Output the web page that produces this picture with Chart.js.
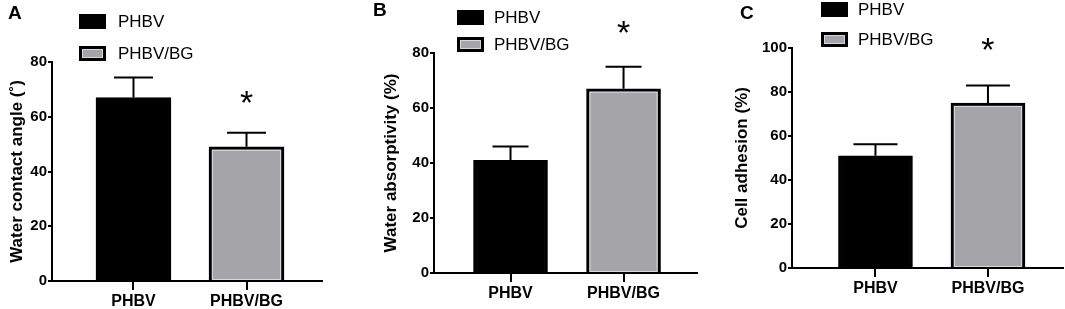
<!DOCTYPE html>
<html>
<head>
<meta charset="utf-8">
<script src="https://cdn.jsdelivr.net/npm/chart.js@4/dist/chart.umd.min.js"></script>
<style>
  html, body { margin: 0; padding: 0; background: #fff; }
  body { width: 1065px; height: 309px; position: relative; overflow: hidden; }
  .panel { position: absolute; top: 0; height: 309px; }
  canvas { display: block; }
</style>
</head>
<body>
<div class="panel" style="left:0px;width:355px"><canvas id="cA" width="355" height="309"></canvas></div>
<div class="panel" style="left:360px;width:345px"><canvas id="cB" width="345" height="309"></canvas></div>
<div class="panel" style="left:710px;width:355px"><canvas id="cC" width="355" height="309"></canvas></div>
<script>
// ---- data ----
const categories = ['PHBV', 'PHBV/BG'];
const legendLabels = ['PHBV', 'PHBV/BG'];

const contactAngle = [67, 49];
const contactAngleErr = [7.3, 5.2];

const absorptivity = [41, 67];
const absorptivityErr = [5, 8];

const adhesion = [51, 75];
const adhesionErr = [5.2, 8];

const significant = [false, true];

const yMaxA = 80, yMaxB = 80, yMaxC = 100;
const yStep = 20;

// ---- styling ----
const FONT = "'Liberation Sans', Arial, Helvetica, sans-serif";
const barColors = ['#000000', '#a5a4a8'];

function makeChart(id, cfg) {
  const ctx = document.getElementById(id);
  const W = ctx.width, H = ctx.height;
  const extras = {
    id: 'extras' + id,
    afterDatasetsDraw(chart) {
      const c = chart.ctx;
      const xs = chart.scales.x, ys = chart.scales.y;
      const meta = chart.getDatasetMeta(0);
      c.save();
      // faint inner edge on grey bar
      meta.data.forEach((bar, i) => {
        if (i === 0) return;
        const p = bar.getProps(['x', 'y', 'base', 'width'], true);
        c.strokeStyle = '#d6d6d8';
        c.lineWidth = 1;
        c.strokeRect(p.x - p.width / 2 + 3.5, p.y + 3.5, p.width - 7, p.base - p.y - 4);
      });
      // error bars (upper only)
      c.strokeStyle = '#000';
      c.lineWidth = 2;
      cfg.values.forEach((v, i) => {
        const x = xs.getPixelForValue(i + 1);
        const yb = ys.getPixelForValue(v);
        const yt = ys.getPixelForValue(v + cfg.errors[i]);
        c.beginPath();
        c.moveTo(x, yb);
        c.lineTo(x, yt);
        c.moveTo(x - cfg.cap / 2, yt);
        c.lineTo(x + cfg.cap / 2, yt);
        c.stroke();
        if (significant[i]) {
          c.fillStyle = '#000';
          c.font = '34px ' + FONT;
          c.textAlign = 'center';
          c.textBaseline = 'alphabetic';
          const m = c.measureText('*');
          const cy = yt - cfg.starGap;
          c.fillText('*', x, cy + (m.actualBoundingBoxAscent - m.actualBoundingBoxDescent) / 2);
        }
      });
      // legend
      const L = cfg.legend;
      legendLabels.forEach((lab, i) => {
        const by = L.y[i];
        if (i === 0) {
          c.fillStyle = barColors[0];
          c.fillRect(L.x, by, 27, 15);
        } else {
          c.fillStyle = '#000';
          c.fillRect(L.x, by, 27, 15);
          c.fillStyle = barColors[1];
          c.fillRect(L.x + 3, by + 3, 21, 9);
          c.strokeStyle = '#d6d6d8';
          c.lineWidth = 1;
          c.strokeRect(L.x + 3.5, by + 3.5, 20, 8);
        }
        c.fillStyle = '#000';
        c.font = '17px ' + FONT;
        c.textAlign = 'left';
        c.textBaseline = 'middle';
        c.fillText(lab, L.tx, by + 8);
      });
      // panel letter
      c.font = 'bold 19px ' + FONT;
      c.textAlign = 'left';
      c.textBaseline = 'middle';
      c.fillText(cfg.letter.t, cfg.letter.x, cfg.letter.y);
      c.restore();
    }
  };
  return new Chart(ctx, {
    type: 'bar',
    data: {
      datasets: [{
        data: cfg.values.map((v, i) => ({ x: i + 1, y: v })),
        backgroundColor: barColors,
        borderColor: '#000',
        borderWidth: 3,
        borderSkipped: 'start',
        barThickness: cfg.barW
      }]
    },
    options: {
      responsive: false,
      animation: false,
      devicePixelRatio: 1,
      layout: { padding: { left: 0, top: cfg.area.top, right: W - cfg.area.right, bottom: 0 } },
      plugins: { legend: { display: false }, tooltip: { enabled: false } },
      scales: {
        x: {
          type: 'linear',
          offset: false,
          min: cfg.xmin, max: cfg.xmax,
          afterFit(s) { s.height = H - cfg.area.bottom; },
          afterBuildTicks(s) { s.ticks = categories.map((c, i) => ({ value: i + 1 })); },
          ticks: {
            callback: (v) => categories[Math.round(v) - 1],
            color: '#000',
            font: { family: FONT, size: 16, weight: 'bold' },
            padding: 2,
            maxRotation: 0, autoSkip: false
          },
          grid: { offset: false, drawOnChartArea: false, drawTicks: true, tickLength: 9, color: '#000', lineWidth: 2 },
          border: { display: true, color: '#000', width: 2 }
        },
        y: {
          min: 0, max: cfg.ymax,
          afterFit(s) { s.width = cfg.area.left; },
          ticks: {
            stepSize: yStep,
            color: '#000',
            font: { family: FONT, size: 15, weight: 'bold' },
            padding: 1
          },
          grid: { drawOnChartArea: false, drawTicks: true, tickLength: 4, color: '#000', lineWidth: 2 },
          border: { display: true, color: '#000', width: 2 },
          title: {
            display: true,
            text: cfg.ytitle,
            color: '#000',
            font: { family: FONT, size: 17, weight: 'bold' },
            padding: { top: cfg.titlePad, bottom: 0 }
          }
        }
      }
    },
    plugins: [extras]
  });
}

makeChart('cA', {
  values: contactAngle, errors: contactAngleErr, ymax: yMaxA,
  ytitle: 'Water contact angle (˚)',
  area: { left: 52, right: 322, top: 62, bottom: 281 },
  xmin: 0.279, xmax: 2.668, barW: 75, cap: 39, starGap: 36, titlePad: 7,
  legend: { x: 79, y: [14, 46], tx: 118 },
  letter: { t: 'A', x: 8, y: 14 }
});
makeChart('cB', {
  values: absorptivity, errors: absorptivityErr, ymax: yMaxB,
  ytitle: 'Water absorptivity (%)',
  area: { left: 74, right: 337, top: 53, bottom: 273 },
  xmin: 0.323, xmax: 2.65, barW: 74, cap: 36, starGap: 40, titlePad: 21,
  legend: { x: 97, y: [10, 37], tx: 134 },
  letter: { t: 'B', x: 13, y: 11 }
});
makeChart('cC', {
  values: adhesion, errors: adhesionErr, ymax: yMaxC,
  ytitle: 'Cell adhesion (%)',
  area: { left: 82, right: 353, top: 48, bottom: 268 },
  xmin: 0.258, xmax: 2.667, barW: 74, cap: 44, starGap: 41, titlePad: 22,
  legend: { x: 111, y: [2, 32], tx: 148 },
  letter: { t: 'C', x: 30, y: 14 }
});
</script>
</body>
</html>
